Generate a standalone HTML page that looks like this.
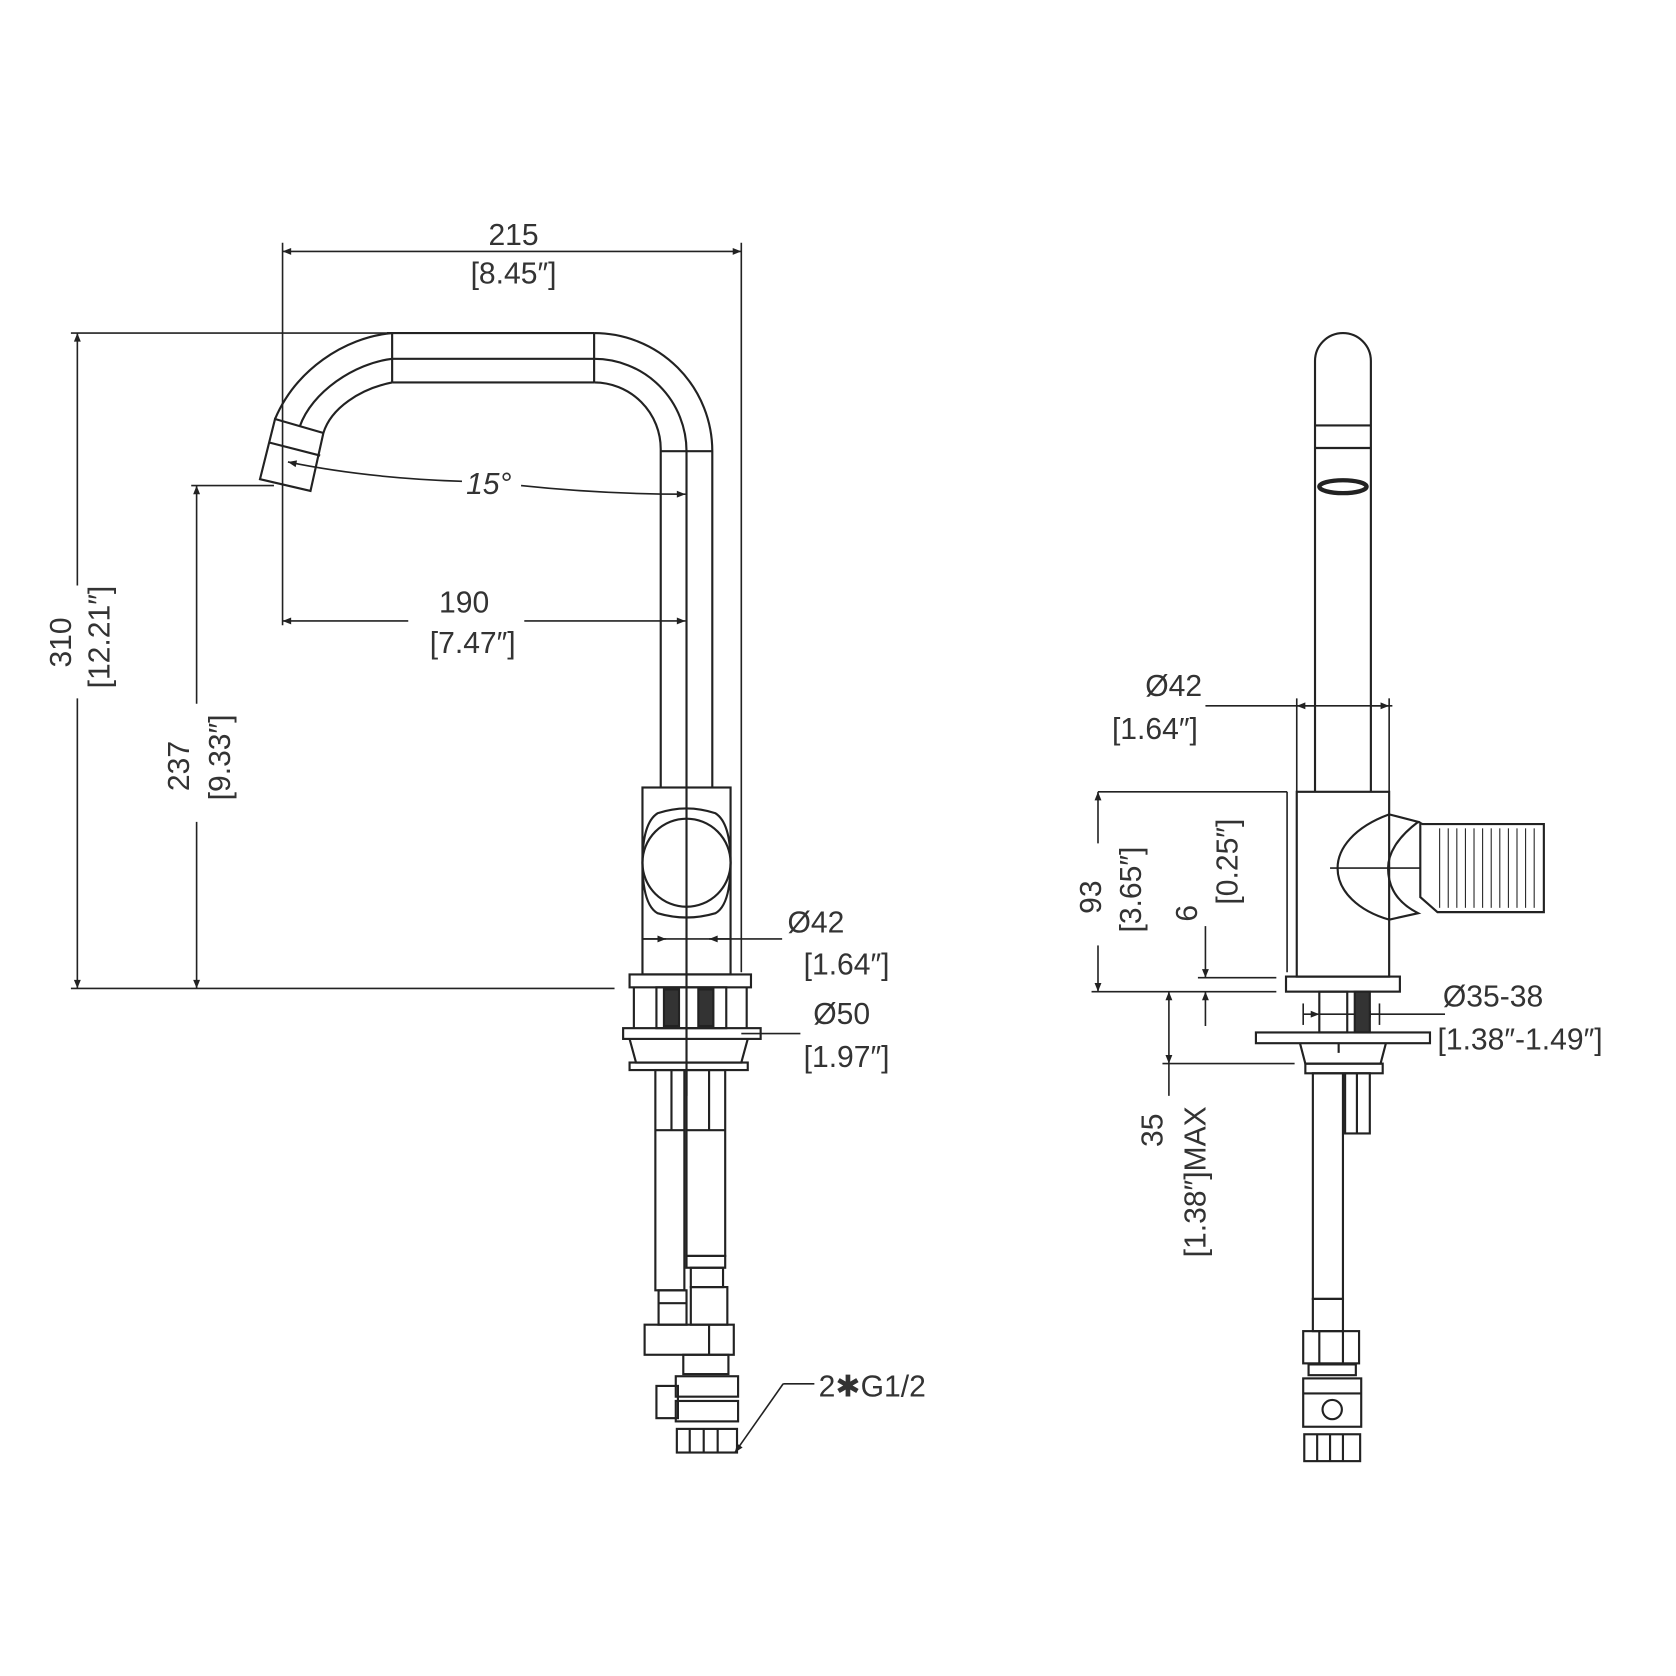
<!DOCTYPE html>
<html><head><meta charset="utf-8"><style>
html,body{margin:0;padding:0;background:#fff}
svg{display:block}
text{font-family:"Liberation Sans Narrow","Liberation Sans",sans-serif;font-size:28px;fill:#333}
</style></head><body>
<svg width="1676" height="1676" viewBox="0 0 1560 1560" xmlns="http://www.w3.org/2000/svg">
<defs>
<marker id="a" viewBox="0 0 10 10" refX="10" refY="5" markerWidth="14" markerHeight="8" orient="auto-start-reverse" markerUnits="userSpaceOnUse"><path d="M0,1 L10,5 L0,9 z" fill="#222"/></marker>
</defs>
<g fill="none" stroke="#222" stroke-width="2">
<line x1="263" y1="234" x2="690" y2="234" marker-start="url(#a)" marker-end="url(#a)" stroke-width="1.5"/>
<line x1="263" y1="226" x2="263" y2="582" stroke-width="1.5"/>
<line x1="690" y1="226" x2="690" y2="905" stroke-width="1.5"/>
<line x1="66" y1="310" x2="360" y2="310" stroke-width="1.5"/>
<line x1="66" y1="920" x2="572" y2="920" stroke-width="1.5"/>
<line x1="72" y1="310" x2="72" y2="545" marker-start="url(#a)" stroke-width="1.5"/>
<line x1="72" y1="650" x2="72" y2="920" marker-end="url(#a)" stroke-width="1.5"/>
<line x1="178" y1="452" x2="255" y2="452" stroke-width="1.5"/>
<line x1="183" y1="452" x2="183" y2="655" marker-start="url(#a)" stroke-width="1.5"/>
<line x1="183" y1="765" x2="183" y2="920" marker-end="url(#a)" stroke-width="1.5"/>
<line x1="263" y1="578" x2="380" y2="578" marker-start="url(#a)" stroke-width="1.5"/>
<line x1="488" y1="578" x2="638" y2="578" marker-end="url(#a)" stroke-width="1.5"/>
<path d="M268,430 Q340,445 430,448" stroke-width="1.5" marker-start="url(#a)"/>
<path d="M485,452 Q560,460 638,460" stroke-width="1.5" marker-end="url(#a)"/>
<line x1="598" y1="874" x2="728" y2="874" stroke-width="1.5"/>
<line x1="598" y1="874" x2="620" y2="874" marker-end="url(#a)" stroke-width="1.5"/>
<line x1="680" y1="874" x2="660" y2="874" marker-end="url(#a)" stroke-width="1.5"/>
<line x1="690" y1="962" x2="745" y2="962" stroke-width="1.5"/>
<line x1="360" y1="310" x2="553" y2="310"/>
<line x1="365" y1="334" x2="553" y2="334"/>
<line x1="365" y1="356" x2="553" y2="356"/>
<line x1="365" y1="310" x2="365" y2="356"/>
<line x1="553" y1="310" x2="553" y2="356"/>
<path d="M553,310 A110,110 0 0 1 663,420 L663,733"/>
<path d="M553,334 A86,86 0 0 1 639,420 L639,1020"/>
<path d="M553,356 A62,62 0 0 1 615,418 L615,733"/>
<line x1="615" y1="420" x2="663" y2="420"/>
<path d="M365,310 C320,314 275,345 256,390"/>
<path d="M365,334 C330,338 290,365 279,397"/>
<path d="M365,356 C335,362 308,380 301,403"/>
<path d="M256,390 L301,403 L289,457 L242,446 Z"/>
<line x1="251" y1="412" x2="298" y2="424"/>
<rect x="598" y="733" width="82" height="174"/>
<path d="M612,757 Q639,748 666,757 Q680,766 680,803 Q680,842 666,850 Q639,858 612,850 Q598,842 598,803 Q598,766 612,757 Z"/>
<circle cx="639" cy="803" r="41"/>
<rect x="586" y="907" width="113" height="12"/>
<rect x="611" y="919" width="65" height="38"/>
<rect x="618" y="921" width="14" height="34" fill="#333"/>
<rect x="650" y="921" width="14" height="34" fill="#333"/>
<line x1="590" y1="919" x2="590" y2="957"/><line x1="695" y1="919" x2="695" y2="957"/>
<rect x="580" y="957" width="128" height="10"/>
<path d="M586,967 L592,989 L690,989 L696,967"/>
<rect x="586" y="989" width="110" height="7"/>
<rect x="610" y="996" width="27" height="205"/>
<line x1="610" y1="1052" x2="637" y2="1052"/><line x1="625" y1="996" x2="625" y2="1052"/>
<rect x="639" y="996" width="36" height="173"/>
<line x1="639" y1="1052" x2="675" y2="1052"/><line x1="660" y1="996" x2="660" y2="1052"/>
<rect x="639" y="1169" width="36" height="11"/>
<rect x="643" y="1180" width="30" height="18"/>
<rect x="643" y="1198" width="34" height="35"/>
<rect x="613" y="1201" width="26" height="32"/>
<line x1="613" y1="1213" x2="639" y2="1213"/>
<rect x="600" y="1233" width="83" height="28"/>
<line x1="660" y1="1233" x2="660" y2="1261"/>
<rect x="636" y="1261" width="42" height="18"/>
<rect x="629" y="1281" width="58" height="19"/>
<rect x="611" y="1290" width="20" height="30"/>
<rect x="629" y="1304" width="58" height="19"/>
<rect x="630" y="1330" width="56" height="22"/>
<line x1="642" y1="1330" x2="642" y2="1352"/><line x1="655" y1="1330" x2="655" y2="1352"/><line x1="668" y1="1330" x2="668" y2="1352"/>
<polyline points="729,1288 758,1288" stroke-width="1.5"/>
<line x1="729" y1="1288" x2="684" y2="1352" stroke-width="1.5" marker-end="url(#a)"/>
<path d="M1224,737 L1224,336 A26,26 0 0 1 1276,336 L1276,737"/>
<line x1="1224" y1="396" x2="1276" y2="396"/>
<line x1="1224" y1="417" x2="1276" y2="417"/>
<ellipse cx="1250" cy="453" rx="22" ry="6" stroke-width="4"/>
<line x1="1122" y1="657" x2="1296" y2="657" stroke-width="1.5"/>
<line x1="1207" y1="657" x2="1224" y2="657" marker-start="url(#a)" stroke-width="1.5"/>
<line x1="1293" y1="657" x2="1276" y2="657" marker-start="url(#a)" stroke-width="1.5"/>
<line x1="1207" y1="650" x2="1207" y2="737" stroke-width="1.5"/>
<line x1="1293" y1="650" x2="1293" y2="737" stroke-width="1.5"/>
<rect x="1207" y="737" width="86" height="172"/>
<rect x="1197" y="909" width="106" height="14"/>
<path d="M1293,758 C1260,770 1245,790 1245,808 C1245,830 1265,848 1293,856"/>
<path d="M1293,758 L1320,765 C1300,780 1292,795 1292,808 C1292,825 1300,840 1320,850 L1293,856"/>
<path d="M1320,765 L1324,767 L1437,767 L1437,849 L1338,849 L1322,835 L1322,767"/>
<g stroke-width="1">
<line x1="1340" y1="771" x2="1340" y2="845"/><line x1="1348" y1="771" x2="1348" y2="845"/><line x1="1356" y1="771" x2="1356" y2="845"/><line x1="1364" y1="771" x2="1364" y2="845"/><line x1="1372" y1="771" x2="1372" y2="845"/><line x1="1380" y1="771" x2="1380" y2="845"/><line x1="1388" y1="771" x2="1388" y2="845"/><line x1="1396" y1="771" x2="1396" y2="845"/><line x1="1404" y1="771" x2="1404" y2="845"/><line x1="1412" y1="771" x2="1412" y2="845"/><line x1="1420" y1="771" x2="1420" y2="845"/><line x1="1428" y1="771" x2="1428" y2="845"/>
</g>
<line x1="1238" y1="808" x2="1322" y2="808" stroke-width="1.5"/>
<line x1="1022" y1="737" x2="1198" y2="737" stroke-width="1.5"/>
<line x1="1198" y1="737" x2="1198" y2="905" stroke-width="1.5"/>
<line x1="1022" y1="737" x2="1022" y2="785" marker-start="url(#a)" stroke-width="1.5"/>
<line x1="1022" y1="880" x2="1022" y2="923" marker-end="url(#a)" stroke-width="1.5"/>
<line x1="1016" y1="923" x2="1188" y2="923" stroke-width="1.5"/>
<line x1="1115" y1="910" x2="1188" y2="910" stroke-width="1.5"/>
<line x1="1122" y1="862" x2="1122" y2="910" marker-end="url(#a)" stroke-width="1.5"/>
<line x1="1122" y1="955" x2="1122" y2="923" marker-end="url(#a)" stroke-width="1.5"/>
<line x1="1088" y1="923" x2="1088" y2="990" marker-start="url(#a)" marker-end="url(#a)" stroke-width="1.5"/>
<line x1="1088" y1="990" x2="1088" y2="1020" stroke-width="1.5"/>
<line x1="1082" y1="990" x2="1205" y2="990" stroke-width="1.5"/>
<line x1="1228" y1="944" x2="1345" y2="944" stroke-width="1.5"/>
<line x1="1213" y1="944" x2="1228" y2="944" marker-end="url(#a)" stroke-width="1.5"/>
<line x1="1284" y1="944" x2="1268" y2="944" marker-end="url(#a)" stroke-width="1.5"/>
<line x1="1213" y1="934" x2="1213" y2="954" stroke-width="1.5"/>
<line x1="1284" y1="934" x2="1284" y2="954" stroke-width="1.5"/>
<rect x="1228" y="923" width="26" height="38"/>
<rect x="1261" y="923" width="14" height="38" fill="#333"/>
<rect x="1169" y="961" width="162" height="10"/>
<path d="M1210,971 L1215,990 L1285,990 L1290,971"/>
<rect x="1215" y="990" width="72" height="9"/>
<line x1="1246" y1="971" x2="1246" y2="980"/>
<rect x="1222" y="999" width="28" height="210"/>
<rect x="1252" y="999" width="23" height="56"/>
<line x1="1263" y1="999" x2="1263" y2="1055"/>
<rect x="1222" y="1209" width="28" height="30"/>
<rect x="1213" y="1239" width="52" height="30"/>
<line x1="1228" y1="1239" x2="1228" y2="1269"/><line x1="1250" y1="1239" x2="1250" y2="1269"/>
<rect x="1218" y="1270" width="44" height="10"/>
<rect x="1213" y="1283" width="54" height="45"/>
<line x1="1213" y1="1297" x2="1267" y2="1297"/>
<circle cx="1240" cy="1312" r="9"/>
<rect x="1214" y="1335" width="52" height="25"/>
<line x1="1226" y1="1335" x2="1226" y2="1360"/><line x1="1238" y1="1335" x2="1238" y2="1360"/><line x1="1250" y1="1335" x2="1250" y2="1360"/>
</g>
<text x="478" y="228" text-anchor="middle">215</text>
<text x="478" y="264" text-anchor="middle">[8.45″]</text>
<text x="455" y="460" text-anchor="middle" font-style="italic">15°</text>
<text x="432" y="570" text-anchor="middle">190</text>
<text x="440" y="608" text-anchor="middle">[7.47″]</text>
<text transform="translate(66,598) rotate(-90)" text-anchor="middle">310</text>
<text transform="translate(102,593) rotate(-90)" text-anchor="middle">[12.21″]</text>
<text transform="translate(176,713) rotate(-90)" text-anchor="middle">237</text>
<text transform="translate(214,705) rotate(-90)" text-anchor="middle">[9.33″]</text>
<text x="733" y="868">Ø42</text>
<text x="748" y="907">[1.64″]</text>
<text x="757" y="953">Ø50</text>
<text x="748" y="993">[1.97″]</text>
<text x="762" y="1300">2✱G1/2</text>
<text x="1066" y="648">Ø42</text>
<text x="1035" y="688">[1.64″]</text>
<text transform="translate(1025,835) rotate(-90)" text-anchor="middle">93</text>
<text transform="translate(1062,828) rotate(-90)" text-anchor="middle">[3.65″]</text>
<text transform="translate(1152,802) rotate(-90)" text-anchor="middle">[0.25″]</text>
<text transform="translate(1114,850) rotate(-90)" text-anchor="middle">6</text>
<text transform="translate(1082,1052) rotate(-90)" text-anchor="middle">35</text>
<text transform="translate(1122,1100) rotate(-90)" text-anchor="middle">[1.38″]MAX</text>
<text x="1343" y="937">Ø35-38</text>
<text x="1338" y="977">[1.38″-1.49″]</text>
</svg>
</body></html>
